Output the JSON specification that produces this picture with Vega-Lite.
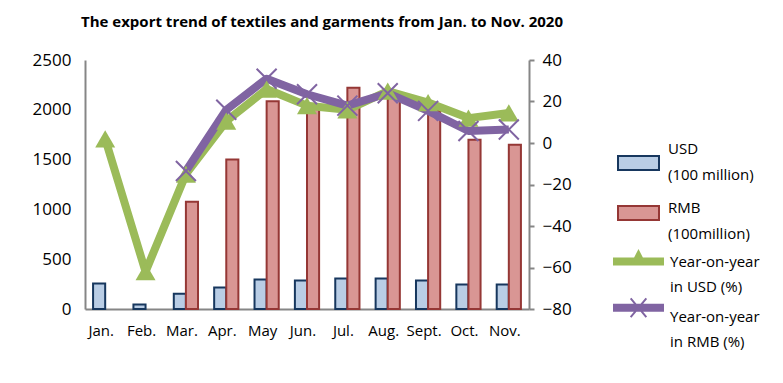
{
  "$schema": "https://vega.github.io/schema/vega-lite/v6.json",
  "width": 444,
  "height": 249,
  "autosize": {"type": "none"},
  "padding": {"left": 85, "top": 60, "right": 254, "bottom": 74},
  "background": "white",
  "title": {
    "text": "The export trend of textiles and garments from Jan. to Nov. 2020",
    "font": "Open Sans",
    "fontSize": 15,
    "fontWeight": "bold",
    "color": "black",
    "anchor": "middle",
    "frame": "group",
    "dx": 15,
    "offset": 21
  },
  "config": {
    "view": {"stroke": null},
    "font": "Open Sans",
    "axis": {"labelFont": "Open Sans", "labelColor": "black", "grid": false, "domainColor": "#868686", "domainWidth": 2, "tickColor": "#868686", "tickWidth": 2}
  },
  "data": {
    "values": [
      {"month": "Jan.", "usd": 255, "rmb": null, "yoyUsd": 2, "yoyRmb": null},
      {"month": "Feb.", "usd": 45, "rmb": null, "yoyUsd": -62, "yoyRmb": null},
      {"month": "Mar.", "usd": 153, "rmb": 1077, "yoyUsd": -15, "yoyRmb": -13.5},
      {"month": "Apr.", "usd": 217, "rmb": 1502, "yoyUsd": 10.5, "yoyRmb": 16},
      {"month": "May", "usd": 297, "rmb": 2085, "yoyUsd": 26, "yoyRmb": 31},
      {"month": "Jun.", "usd": 287, "rmb": 2030, "yoyUsd": 18, "yoyRmb": 23.5},
      {"month": "Jul.", "usd": 307, "rmb": 2222, "yoyUsd": 16, "yoyRmb": 18},
      {"month": "Aug.", "usd": 307, "rmb": 2175, "yoyUsd": 25, "yoyRmb": 24},
      {"month": "Sept.", "usd": 287, "rmb": 1990, "yoyUsd": 19.5, "yoyRmb": 15.5},
      {"month": "Oct.", "usd": 247, "rmb": 1700, "yoyUsd": 12, "yoyRmb": 5.8},
      {"month": "Nov.", "usd": 247, "rmb": 1650, "yoyUsd": 14.5, "yoyRmb": 6.5}
    ]
  },
  "encoding": {
    "x": {
      "field": "month",
      "type": "nominal",
      "sort": null,
      "scale": {"paddingInner": 0.4, "paddingOuter": 0.2},
      "axis": {"title": null, "labelAngle": 0, "labelFontSize": 15, "ticks": false, "labelPadding": 14, "labelOffset": -4}
    }
  },
  "layer": [
    {
      "transform": [
        {"fold": ["usd", "rmb"], "as": ["barKey", "barVal"]},
        {"filter": "datum.barVal != null"}
      ],
      "mark": {"type": "bar", "strokeWidth": 2},
      "encoding": {
        "xOffset": {"field": "barKey", "type": "nominal", "sort": ["usd", "rmb"], "scale": {"paddingInner": 0, "paddingOuter": 0}},
        "y": {
          "field": "barVal",
          "type": "quantitative",
          "scale": {"domain": [0, 2500]},
          "axis": {"title": null, "orient": "left", "format": "d", "values": [0, 500, 1000, 1500, 2000, 2500], "ticks": false, "labelFontSize": 17, "labelPadding": 14}
        },
        "fill": {
          "field": "barKey",
          "type": "nominal",
          "scale": {"domain": ["usd", "rmb"], "range": ["#B9CDE5", "#D99694"]},
          "legend": {
            "title": null,
            "orient": "none",
            "legendX": 532,
            "legendY": 78,
            "padding": 0,
            "symbolType": "M-1,-0.34H1V0.34H-1Z",
            "symbolSize": 1681,
            "symbolStrokeWidth": 2,
            "labelOffset": 8,
            "rowPadding": 0,
            "clipHeight": 50,
            "labelFont": "Open Sans",
            "labelFontSize": 15,
            "labelColor": "black",
            "labelExpr": "datum.value == 'usd' ? ['USD', '(100 million)'] : ['RMB', '(100million)']",
            "encode": {
              "labels": {"update": {"lineHeight": {"value": 26}, "dy": {"signal": "datum.value == 'usd' ? -14 : -5"}}},
              "symbols": {"update": {"stroke": {"signal": "datum.value == 'usd' ? '#17375E' : '#953735'"}, "strokeWidth": {"value": 2}}}
            }
          }
        },
        "stroke": {
          "field": "barKey",
          "type": "nominal",
          "scale": {"domain": ["usd", "rmb"], "range": ["#17375E", "#953735"]},
          "legend": null
        }
      }
    },
    {
      "encoding": {
        "y": {
          "type": "quantitative",
          "scale": {"domain": [-80, 40]},
          "axis": {"title": null, "orient": "right", "values": [-80, -60, -40, -20, 0, 20, 40], "tickSize": 5, "labelFontSize": 17, "labelPadding": 8}
        }
      },
      "layer": [
        {
          "transform": [
            {"fold": ["yoyUsd", "yoyRmb"], "as": ["lineKey", "lineVal"]},
            {"filter": "datum.lineVal != null"}
          ],
          "mark": {"type": "line", "strokeWidth": 8, "strokeJoin": "round"},
          "encoding": {
            "y": {"field": "lineVal", "type": "quantitative"},
            "stroke": {
              "field": "lineKey",
              "type": "nominal",
              "scale": {"domain": ["yoyUsd", "yoyRmb"], "range": ["#9BBB59", "#8064A2"]},
              "legend": {
                "title": null,
                "orient": "none",
                "legendX": 528,
                "legendY": 177,
                "padding": 0,
                "symbolSize": 2401,
                "symbolStrokeWidth": 2,
                "labelOffset": 6,
                "rowPadding": 0,
                "clipHeight": 49,
                "labelFont": "Open Sans",
                "labelFontSize": 15,
                "labelColor": "black",
                "labelExpr": "datum.value == 'yoyUsd' ? ['Year-on-year', 'in USD (%)'] : ['Year-on-year', 'in RMB (%)']",
                "encode": {
                  "labels": {"update": {"lineHeight": {"value": 25}, "dy": {"signal": "datum.value == 'yoyUsd' ? 0 : -3"}}},
                  "symbols": {"update": {
                    "shape": {"signal": "datum.value == 'yoyUsd' ? 'M-1,-0.12H1V0.12H-1ZM-0.28,0.12L0,-0.42L0.28,0.12Z' : 'M-1,-0.6H1V-0.36H-1ZM-0.32,-0.86L0.32,-0.1M-0.32,-0.1L0.32,-0.86'"},
                    "fill": {"signal": "datum.value == 'yoyUsd' ? '#9BBB59' : '#8064A2'"},
                    "stroke": {"signal": "datum.value == 'yoyUsd' ? '#9BBB59' : '#8064A2'"},
                    "strokeWidth": {"value": 2}
                  }}
                }
              }
            }
          }
        },
        {
          "transform": [{"filter": "datum.yoyUsd != null"}],
          "mark": {"type": "point", "shape": "triangle-up", "size": 400, "filled": true, "color": "#9BBB59", "opacity": 1},
          "encoding": {"y": {"field": "yoyUsd", "type": "quantitative"}}
        },
        {
          "transform": [{"filter": "datum.yoyRmb != null"}],
          "mark": {"type": "point", "shape": "M-1,-1L1,1M-1,1L1,-1", "size": 400, "filled": false, "stroke": "#8064A2", "strokeWidth": 2, "opacity": 1},
          "encoding": {"y": {"field": "yoyRmb", "type": "quantitative"}}
        }
      ]
    }
  ],
  "resolve": {"scale": {"y": "independent", "stroke": "independent"}, "legend": {"stroke": "independent"}}
}
